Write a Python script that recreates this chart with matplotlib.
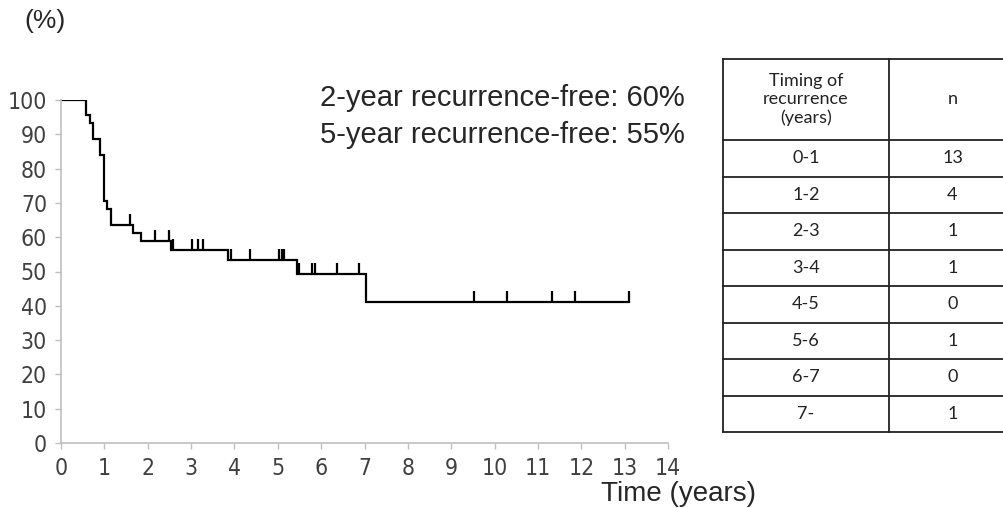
import matplotlib.pyplot as plt
import numpy as np


# Kaplan-Meier steps (years, % recurrence-free)
step_times = [0, 0.58, 0.67, 0.74, 0.90, 0.99, 1.06, 1.15, 1.66, 1.84, 2.54, 3.85, 5.44, 7.03]
step_surv = [100, 95.5, 93.2, 88.6, 84.1, 70.5, 68.2, 63.6, 61.2, 58.9, 56.4, 53.4, 49.2, 41.0]
end_time = 13.1

# censored patients
censor_times = [1.59, 2.17, 2.50, 2.59, 3.02, 3.16, 3.27, 3.92, 4.36, 5.02, 5.09, 5.14,
                5.50, 5.78, 5.85, 6.36, 6.87, 9.52, 10.28, 11.33, 11.85, 13.1]

# table
intervals = ['0-1', '1-2', '2-3', '3-4', '4-5', '5-6', '6-7', '7-']
counts = [13, 4, 1, 1, 0, 1, 0, 1]
header = ['Timing of\nrecurrence\n(years)', 'n']

notes = ['2-year recurrence-free: 60%', '5-year recurrence-free: 55%']

W, H = 1004, 508
fig = plt.figure(figsize=(W / 100, H / 100), dpi=100)

narrow = ['Liberation Sans Narrow', 'DejaVu Sans']
sans = ['Liberation Sans', 'DejaVu Sans']
grey_txt = '#404040'
grey_ax = '#bfbfbf'

ax = fig.add_axes([61 / W, 1 - 443 / H, 607 / W, 343 / H])
t = step_times + [end_time]
s = step_surv + [step_surv[-1]]
ax.step(t, s, where='post', color='black', lw=1.6, solid_joinstyle='miter')

idx = np.searchsorted(step_times, censor_times, side='right') - 1
cs = np.array(step_surv)[idx]
ax.vlines(censor_times, cs, cs + 3.2, color='black', lw=1.6)

ax.set_xlim(0, 14)
ax.set_ylim(0, 100)
ax.set_xticks(range(0, 15))
ax.set_yticks(range(0, 101, 10))
for sp in ['top', 'right']:
    ax.spines[sp].set_visible(False)
for sp in ['left', 'bottom']:
    ax.spines[sp].set_color(grey_ax)
    ax.spines[sp].set_linewidth(1.2)
ax.tick_params(colors=grey_ax, length=4, width=1, pad=6)
for lab in ax.get_xticklabels() + ax.get_yticklabels():
    lab.set_family(narrow)
    lab.set_stretch('condensed')
    lab.set_fontsize(16.5)
    lab.set_color(grey_txt)

ax.text(5.97, 100.6, notes[0], fontsize=21, color='#262626', va='center', ha='left',
        family=sans, clip_on=False)
ax.text(5.97, 89.8, notes[1], fontsize=21, color='#262626', va='center', ha='left',
        family=sans, clip_on=False)

fig.text(45 / W, 1 - 21 / H, '(%)', fontsize=19, color='#262626', ha='center', va='center',
         family=sans)
fig.text(679 / W, 1 - 494 / H, 'Time (years)', fontsize=20, color='#262626', ha='center',
         va='center', family=sans)

# table drawn in pixel coordinates
tab = fig.add_axes([0, 0, 1, 1])
tab.set_xlim(0, W)
tab.set_ylim(H, 0)
tab.axis('off')
x_left, x_mid, x_right = 723, 889, 1016
y_top, y_head = 59, 140
row_h = (432 - y_head) / len(intervals)
y_lines = [y_top, y_head] + [y_head + row_h * (i + 1) for i in range(len(intervals))]
for y in y_lines:
    tab.plot([x_left, x_right], [y, y], color='#222222', lw=1.3)
for x in [x_left, x_mid, x_right]:
    tab.plot([x, x], [y_top, y_lines[-1]], color='#222222', lw=1.3)

tfont = ['Lato', 'DejaVu Sans']
fs = 13
c1 = (x_left + x_mid) / 2
c2 = (x_mid + x_right) / 2
tab.text(c1, (y_top + y_head) / 2, header[0], ha='center', va='center', fontsize=fs,
         family=tfont, linespacing=1.2, color='#222222')
tab.text(c2, (y_top + y_head) / 2, header[1], ha='center', va='center', fontsize=fs,
         family=tfont, color='#222222')
for i, (iv, n) in enumerate(zip(intervals, counts)):
    yc = y_head + row_h * (i + 0.5)
    tab.text(c1, yc, iv, ha='center', va='center', fontsize=fs, family=tfont, color='#222222')
    tab.text(c2, yc, str(n), ha='center', va='center', fontsize=fs, family=tfont, color='#222222')

fig.savefig('out.png', dpi=100)
